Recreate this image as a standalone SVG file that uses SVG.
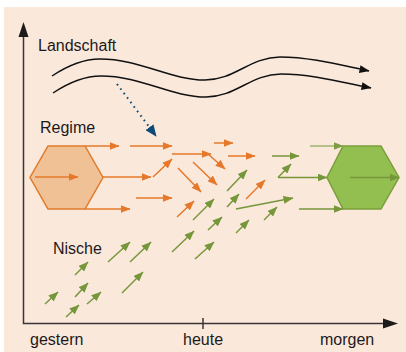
<svg xmlns="http://www.w3.org/2000/svg" width="406" height="352" viewBox="0 0 406 352">
<style>
.t{font-family:"Liberation Sans",Arial,sans-serif;font-size:16px;fill:#1c1a1a}
.o{stroke:#E5782A;stroke-width:1.5;fill:none;marker-end:url(#hO)}
.g{stroke:#76963A;stroke-width:1.5;fill:none;marker-end:url(#hG)}
.gl{stroke:#9DB56E;stroke-width:1.5;fill:none;marker-end:url(#hGL)}
.w{stroke:#111;stroke-width:1.5;fill:none;marker-end:url(#hK)}
.ax{stroke:#3b3434;stroke-width:1.5;fill:none}
</style>
<defs>
<marker id="hO" viewBox="0 0 10 8" markerWidth="10" markerHeight="8" refX="9.5" refY="4" markerUnits="userSpaceOnUse" orient="auto"><path d="M0,0L10,4L0,8z" fill="#E5782A"/></marker>
<marker id="hG" viewBox="0 0 10 8" markerWidth="10" markerHeight="8" refX="9.5" refY="4" markerUnits="userSpaceOnUse" orient="auto"><path d="M0,0L10,4L0,8z" fill="#76963A"/></marker>
<marker id="hGL" viewBox="0 0 10 8" markerWidth="10" markerHeight="8" refX="9.5" refY="4" markerUnits="userSpaceOnUse" orient="auto"><path d="M0,0L10,4L0,8z" fill="#7E9C45"/></marker>
<marker id="hK" viewBox="0 0 10 8" markerWidth="10" markerHeight="8" refX="9.5" refY="4" markerUnits="userSpaceOnUse" orient="auto"><path d="M0,0L10,4L0,8z" fill="#111"/></marker>
<marker id="hB" viewBox="0 0 12 10" markerWidth="12" markerHeight="10" refX="11" refY="5" markerUnits="userSpaceOnUse" orient="auto"><path d="M0,0L12,5L0,10z" fill="#0D4A78"/></marker>
</defs>
<rect x="4" y="7" width="402" height="345" fill="#FAE8DB"/>
<g id="axes">
<path class="ax" d="M23.5,36V323.5H384"/>
<path d="M23.5,22L18.5,37H28.5z" fill="#1c1a1a"/>
<path d="M398,323.5L383,318.5V328.5z" fill="#1c1a1a"/>
<path class="ax" d="M203,318V329"/>
<text class="t" x="30" y="345">gestern</text>
<text class="t" x="183" y="345">heute</text>
<text class="t" x="320" y="345">morgen</text>
</g>
<g id="landschaft">
<text class="t" x="38" y="51">Landschaft</text>
</g>
<g id="regime">
<text class="t" x="40" y="133">Regime</text>
<polygon points="48,146 85,146 103,177.5 85,209 48,209 30,177.5" fill="#F1C196" stroke="#E07B2B" stroke-width="1.5"/>
</g>
<g id="nische">
<text class="t" x="53" y="254">Nische</text>
</g>
<g id="target">
<polygon points="343,146 381,146 399,177.5 381,209 343,209 327,177.5" fill="#93BF51" stroke="#7A9E3A" stroke-width="1.5"/>
</g>
<g id="connectors">
<path class="w" d="M52,76C70,64 85,59 100,59C140,59 170,80 205,80C235,80 250,57 280,57C310,57 340,65 369,71"/>
<path class="w" d="M53,93C71,81 86,76 101,76C141,76 171,97 206,97C236,97 251,74 281,74C311,74 341,82 371,88"/>
<path d="M117,84L156,136" stroke="#0D4A78" stroke-width="2" stroke-dasharray="1.6 4" fill="none" marker-end="url(#hB)"/>
<line class="o" x1="35" y1="177" x2="78" y2="177"/>
<line class="o" x1="85" y1="146" x2="119" y2="146"/>
<line class="o" x1="103" y1="177" x2="151" y2="177"/>
<line class="o" x1="85" y1="209" x2="130" y2="209"/>
<line class="o" x1="130" y1="146" x2="172" y2="146"/>
<line class="o" x1="172" y1="154" x2="211" y2="154"/>
<line class="o" x1="208" y1="154" x2="225" y2="169"/>
<line class="o" x1="214" y1="143" x2="233" y2="143"/>
<line class="o" x1="228" y1="156" x2="255" y2="156"/>
<line class="o" x1="153" y1="177" x2="172" y2="159"/>
<line class="o" x1="193" y1="162" x2="217" y2="185"/>
<line class="o" x1="178" y1="168" x2="201" y2="192"/>
<line class="o" x1="136" y1="198" x2="172" y2="198"/>
<line class="o" x1="177" y1="217" x2="194" y2="201"/>
<line class="o" x1="246" y1="199" x2="265" y2="180"/>
<line class="g" x1="272" y1="156" x2="299" y2="156"/>
<line class="g" x1="278" y1="177.5" x2="291" y2="164"/>
<line class="g" x1="278" y1="177.5" x2="327" y2="177.5"/>
<line class="g" x1="227" y1="191" x2="247" y2="170"/>
<line class="g" x1="236" y1="209" x2="293" y2="198"/>
<line class="g" x1="227" y1="207" x2="239" y2="194"/>
<line class="g" x1="193" y1="220" x2="214" y2="199"/>
<line class="g" x1="208" y1="230" x2="222" y2="217"/>
<line class="g" x1="236" y1="233" x2="249" y2="220"/>
<line class="g" x1="264" y1="220" x2="277" y2="207"/>
<line class="g" x1="195" y1="259" x2="214" y2="242"/>
<line class="g" x1="172" y1="252" x2="194" y2="231"/>
<line class="gl" x1="310" y1="146" x2="343" y2="146"/>
<line class="g" x1="299" y1="209" x2="343" y2="209"/>
<line class="g" x1="350" y1="177.5" x2="399" y2="177.5"/>
<line class="g" x1="108" y1="262" x2="130" y2="242"/>
<line class="g" x1="130" y1="262" x2="151" y2="242"/>
<line class="g" x1="122" y1="293" x2="143" y2="272"/>
<line class="g" x1="75" y1="275" x2="88" y2="262"/>
<line class="g" x1="75" y1="297" x2="88" y2="283"/>
<line class="g" x1="45" y1="304" x2="58" y2="292"/>
<line class="g" x1="87" y1="304" x2="101" y2="292"/>
<line class="g" x1="66" y1="317" x2="79" y2="305"/>
</g>
</svg>
